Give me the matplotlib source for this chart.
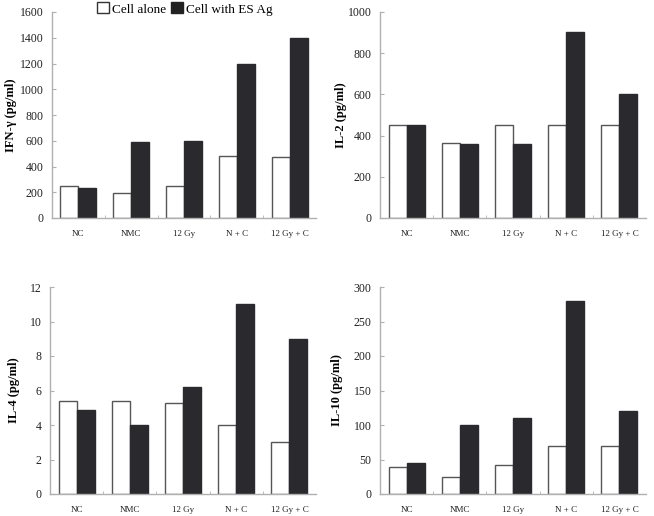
import matplotlib
matplotlib.use("Agg")
import matplotlib.pyplot as plt
from matplotlib.patches import Patch
import numpy as np

categories = ["NC", "NMC", "12 Gy", "N + C", "12 Gy + C"]
series_names = ["Cell alone", "Cell with ES Ag"]

ifn_alone = [245, 195, 250, 480, 470]
ifn_es = [230, 590, 600, 1200, 1400]
il2_alone = [450, 365, 450, 450, 450]
il2_es = [450, 358, 358, 905, 600]
il4_alone = [5.4, 5.4, 5.3, 4.0, 3.0]
il4_es = [4.85, 4.0, 6.2, 11.0, 9.0]
il10_alone = [39, 25, 42, 70, 70]
il10_es = [45, 100, 110, 280, 120]

ylabels = ["IFN-γ (pg/ml)", "IL-2 (pg/ml)", "IL-4 (pg/ml)", "IL-10 (pg/ml)"]
yticks_list = [np.arange(0, 1601, 200), np.arange(0, 1001, 200),
               np.arange(0, 13, 2), np.arange(0, 301, 50)]
label_x = [-0.133, -0.124, -0.113, -0.139]

plt.rcParams['font.family'] = ['Liberation Serif', 'DejaVu Serif']

fig = plt.figure(figsize=(6.54, 5.16), dpi=100)
positions = [
    [52/654, 1-218/516, (316-52)/654, (218-12)/516],
    [380/654, 1-218/516, (646-380)/654, (218-12)/516],
    [50/654, 1-494/516, (316-50)/654, (494-287)/516],
    [380/654, 1-494/516, (646-380)/654, (494-287)/516],
]
data = [(ifn_alone, ifn_es), (il2_alone, il2_es), (il4_alone, il4_es), (il10_alone, il10_es)]

x = np.arange(len(categories))
w = 0.34
spine_col = "#b0b0b0"
dark = "#2a2a2e"
for pos, (a, e), yl, yt, lx in zip(positions, data, ylabels, yticks_list, label_x):
    ax = fig.add_axes(pos)
    ax.bar(x - w/2, a, w, color="white", edgecolor="#555555", linewidth=1.0)
    ax.bar(x + w/2, e, w, color=dark, edgecolor=dark, linewidth=1.0)
    ax.set_xlim(-0.5, 4.5)
    ax.set_ylim(yt[0], yt[-1])
    ax.set_yticks(yt)
    ax.set_yticklabels([str(int(v)) for v in yt], fontsize=8.5, color="#222222")
    ax.set_xticks(x)
    ax.set_xticklabels(categories, fontsize=6.5, color="#222222")
    ax.set_xticks(np.arange(0.5, 4.5, 1), minor=True)
    ax.tick_params(axis='x', which='major', length=0, pad=9)
    ax.tick_params(axis='x', which='minor', direction='in', length=2, color=spine_col)
    ax.tick_params(axis='y', direction='in', length=3, color=spine_col, pad=6)
    for s in ["top", "right"]:
        ax.spines[s].set_visible(False)
    for s in ["left", "bottom"]:
        ax.spines[s].set_color(spine_col)
        ax.spines[s].set_linewidth(1.0)
    ax.set_ylabel(yl, fontsize=9, fontweight='bold')
    ax.yaxis.set_label_coords(lx, 0.5)

handles = [Patch(facecolor="white", edgecolor="#333333", label=series_names[0]),
           Patch(facecolor="#222222", edgecolor="#222222", label=series_names[1])]
fig.legend(handles=handles, loc='center', bbox_to_anchor=(185/654, 1-9/516), ncol=2,
           frameon=False, fontsize=9.5, handlelength=0.9, handleheight=0.9,
           handletextpad=0.2, columnspacing=0.4, borderpad=0)

fig.savefig("out.png", dpi=100)
